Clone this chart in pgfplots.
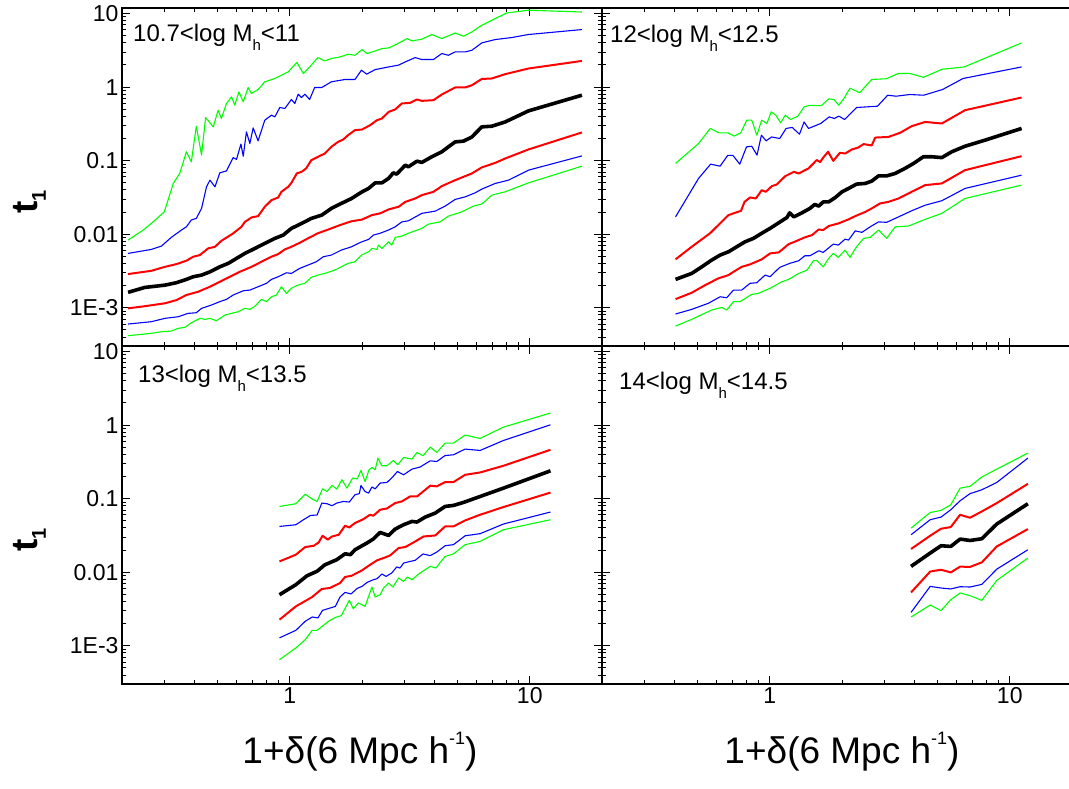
\documentclass[border=0pt]{standalone}
\usepackage{fontspec}
\setmainfont{Liberation Sans}
\usepackage{pgfplots}
\pgfplotsset{compat=1.18}
\definecolor{cgreen}{RGB}{0,255,0}
\definecolor{cblue}{RGB}{0,0,255}
\definecolor{cred}{RGB}{255,0,0}
\newcommand{\Mh}{M\raisebox{-9pt}{\fontsize{15}{15}\selectfont h}}
\pgfplotsset{
 mypanel/.style={scale only axis, width=480pt, height=338pt, anchor=south west,
  xmin=0.2, xmax=20, ymin=3.02e-4, ymax=11.9,
  xtick={1,10}, ytick={0.001,0.01,0.1,1,10},
  minor xtick={0.2,0.3,0.4,0.5,0.6,0.7,0.8,0.9,2,3,4,5,6,7,8,9,20},
  minor ytick={4e-4,5e-4,6e-4,7e-4,8e-4,9e-4,2e-3,3e-3,4e-3,5e-3,6e-3,7e-3,8e-3,9e-3,0.02,0.03,0.04,0.05,0.06,0.07,0.08,0.09,0.2,0.3,0.4,0.5,0.6,0.7,0.8,0.9,2,3,4,5,6,7,8,9},
  major tick length=8pt, minor tick length=4.5pt,
  axis line style={line width=1.3pt},
  tick style={black, line width=1pt},
  tick label style={font=\fontsize{23}{23}\selectfont},
  /pgf/number format/assume math mode=true,
  xticklabels={}, yticklabels={}},
 gl/.style={cgreen, line width=1.1pt, no markers, line join=round},
 bl/.style={cblue, line width=1.1pt, no markers, line join=round},
 rl/.style={cred, line width=2pt, no markers, line join=round},
 kl/.style={black, line width=3.6pt, no markers, line join=round},
}
\begin{document}
\begin{tikzpicture}[x=1pt,y=1pt]
\useasboundingbox (0,0) rectangle (1069,788);
% ---------------- top left
\begin{axis}[xmode=log, ymode=log, mypanel, at={(122pt,442pt)}, yticklabels={1E-3,0.01,0.1,1,10}]
\addplot[gl] coordinates {(0.212,0.00832) (0.245,0.01138) (0.265,0.01403) (0.300,0.0201) (0.311,0.0290) (0.327,0.0490) (0.348,0.0670) (0.371,0.132) (0.389,0.0964) (0.408,0.294) (0.429,0.119) (0.446,0.386) (0.480,0.288) (0.503,0.485) (0.519,0.374) (0.545,0.599) (0.572,0.736) (0.590,0.568) (0.614,0.861) (0.640,0.630) (0.671,0.988) (0.692,0.819) (0.738,0.927) (0.787,1.18) (0.867,1.31) (0.923,1.45) (0.985,1.61) (1.07,2.16) (1.14,1.53) (1.21,1.88) (1.31,2.52) (1.40,2.27) (1.49,2.45) (1.62,2.57) (1.75,2.80) (1.87,2.71) (2.00,3.24) (2.10,2.86) (2.27,3.10) (2.42,3.34) (2.58,3.41) (2.79,3.83) (3.08,4.57) (3.23,4.25) (3.55,4.48) (3.91,5.19) (4.30,4.57) (4.89,5.45) (5.29,4.92) (5.74,5.62) (6.31,6.93) (7.18,8.55) (8.03,10.2) (9.88,11.1) (16.5,10.5)};
\addplot[bl] coordinates {(0.212,0.00548) (0.265,0.00621) (0.292,0.00689) (0.321,0.00906) (0.354,0.0114) (0.371,0.0126) (0.389,0.0156) (0.408,0.0164) (0.429,0.0224) (0.450,0.0441) (0.465,0.0543) (0.488,0.0441) (0.511,0.0682) (0.545,0.0726) (0.581,0.110) (0.600,0.104) (0.626,0.168) (0.640,0.115) (0.660,0.246) (0.682,0.171) (0.704,0.279) (0.738,0.186) (0.787,0.355) (0.839,0.415) (0.867,0.394) (0.909,0.528) (0.954,0.512) (1.016,0.679) (1.05,0.599) (1.084,0.801) (1.119,0.722) (1.156,0.801) (1.21,0.679) (1.27,0.988) (1.36,0.988) (1.49,1.18) (1.70,1.27) (1.87,1.27) (1.99,1.70) (2.09,1.50) (2.27,1.73) (2.58,1.88) (2.84,1.99) (3.03,2.20) (3.33,2.52) (3.55,2.37) (3.97,2.37) (4.30,2.86) (4.58,2.71) (4.89,3.01) (5.38,3.01) (5.74,3.17) (6.31,3.99) (7.18,4.43) (8.42,4.72) (9.88,5.19) (16.5,6.06)};
\addplot[rl] coordinates {(0.212,0.00287) (0.265,0.00318) (0.302,0.00360) (0.337,0.00392) (0.371,0.00436) (0.396,0.00494) (0.422,0.00520) (0.457,0.00641) (0.488,0.00675) (0.519,0.00813) (0.581,0.01026) (0.629,0.0126) (0.650,0.0147) (0.693,0.0169) (0.738,0.0176) (0.787,0.0236) (0.839,0.0290) (0.895,0.0316) (0.923,0.0377) (0.985,0.0441) (1.016,0.0499) (1.07,0.0670) (1.12,0.0705) (1.17,0.0784) (1.23,0.1016) (1.31,0.1127) (1.40,0.125) (1.49,0.154) (1.59,0.180) (1.67,0.194) (1.75,0.222) (1.87,0.260) (2.00,0.265) (2.16,0.303) (2.31,0.355) (2.42,0.374) (2.58,0.460) (2.75,0.497) (2.93,0.599) (3.17,0.610) (3.39,0.679) (3.55,0.650) (3.97,0.664) (4.30,0.793) (4.89,0.988) (5.38,0.988) (5.74,1.06) (6.31,1.29) (6.95,1.31) (7.90,1.50) (9.88,1.79) (16.5,2.27)};
\addplot[kl] coordinates {(0.212,0.00162) (0.249,0.00189) (0.302,0.00203) (0.337,0.00219) (0.371,0.00243) (0.396,0.00264) (0.429,0.00278) (0.465,0.00308) (0.511,0.00360) (0.554,0.00401) (0.600,0.00469) (0.650,0.00548) (0.716,0.00641) (0.787,0.00750) (0.867,0.00877) (0.939,0.00973) (1.016,0.0120) (1.12,0.0140) (1.23,0.0164) (1.36,0.0182) (1.49,0.0224) (1.64,0.0262) (1.81,0.0306) (1.99,0.0373) (2.13,0.0419) (2.27,0.0499) (2.42,0.0499) (2.58,0.0573) (2.70,0.0682) (2.79,0.0656) (3.03,0.0869) (3.12,0.0824) (3.39,0.0984) (3.55,0.0946) (3.91,0.113) (4.30,0.132) (4.58,0.154) (4.89,0.180) (5.29,0.184) (5.74,0.210) (6.31,0.288) (6.95,0.294) (7.90,0.336) (9.88,0.475) (16.5,0.776)};
\addplot[rl] coordinates {(0.212,9.82e-4) (0.249,1.05e-3) (0.302,1.15e-3) (0.337,1.27e-3) (0.371,1.49e-3) (0.415,1.65e-3) (0.465,1.93e-3) (0.511,2.25e-3) (0.563,2.64e-3) (0.619,3.08e-3) (0.693,3.60e-3) (0.762,4.22e-3) (0.839,4.94e-3) (0.895,5.37e-3) (0.954,6.21e-3) (1.016,6.75e-3) (1.10,7.64e-3) (1.19,8.77e-3) (1.31,1.03e-2) (1.49,1.20e-2) (1.64,1.35e-2) (1.81,1.50e-2) (2.00,1.58e-2) (2.20,1.82e-2) (2.38,1.92e-2) (2.58,2.17e-2) (2.84,2.36e-2) (3.03,2.75e-2) (3.33,3.06e-2) (3.55,3.40e-2) (3.97,3.77e-2) (4.30,4.50e-2) (4.89,5.43e-2) (5.74,6.70e-2) (6.31,8.09e-2) (7.18,9.33e-2) (7.90,0.107) (9.88,0.142) (16.5,0.242)};
\addplot[bl] coordinates {(0.212,6.01e-4) (0.265,6.46e-4) (0.302,7.18e-4) (0.343,7.55e-4) (0.377,8.39e-4) (0.408,8.55e-4) (0.429,9.82e-4) (0.472,1.09e-3) (0.511,1.21e-3) (0.545,1.30e-3) (0.581,1.49e-3) (0.640,1.70e-3) (0.682,1.74e-3) (0.738,1.93e-3) (0.800,2.15e-3) (0.839,2.43e-3) (0.895,2.64e-3) (0.969,2.99e-3) (1.016,2.93e-3) (1.10,3.43e-3) (1.19,3.80e-3) (1.29,4.22e-3) (1.38,4.94e-3) (1.49,5.20e-3) (1.64,6.08e-3) (1.81,6.75e-3) (1.93,7.50e-3) (2.00,7.89e-3) (2.13,8.50e-3) (2.23,9.73e-3) (2.38,1.03e-2) (2.58,1.14e-2) (2.75,1.26e-2) (2.93,1.47e-2) (3.12,1.52e-2) (3.55,1.92e-2) (4.04,2.06e-2) (4.44,2.41e-2) (4.89,2.97e-2) (5.38,3.22e-2) (5.92,3.65e-2) (6.31,4.10e-2) (7.18,4.90e-2) (8.15,5.43e-2) (9.88,7.43e-2) (16.5,0.116)};
\addplot[gl] coordinates {(0.212,4.17e-4) (0.265,4.49e-4) (0.292,4.72e-4) (0.321,4.82e-4) (0.343,5.25e-4) (0.366,5.42e-4) (0.389,6.25e-4) (0.422,7.18e-4) (0.443,6.95e-4) (0.465,7.18e-4) (0.495,6.65e-4) (0.537,7.96e-4) (0.572,8.39e-4) (0.610,8.83e-4) (0.650,9.82e-4) (0.682,9.51e-4) (0.716,1.05e-3) (0.762,1.30e-3) (0.800,1.21e-3) (0.839,1.41e-3) (0.880,1.49e-3) (0.923,1.93e-3) (0.969,1.57e-3) (1.016,1.84e-3) (1.08,2.03e-3) (1.156,2.15e-3) (1.23,2.59e-3) (1.31,2.78e-3) (1.40,2.93e-3) (1.54,3.25e-3) (1.64,3.60e-3) (1.75,4.01e-3) (1.87,4.22e-3) (1.99,5.20e-3) (2.13,5.77e-3) (2.20,6.41e-3) (2.31,6.21e-3) (2.34,7.11e-3) (2.42,6.41e-3) (2.58,7.89e-3) (2.66,7.11e-3) (2.75,9.06e-3) (2.93,9.42e-3) (3.12,1.03e-2) (3.55,1.20e-2) (3.78,1.37e-2) (4.23,1.47e-2) (4.58,1.76e-2) (5.21,2.01e-2) (5.83,2.41e-2) (6.31,2.57e-2) (6.95,3.40e-2) (7.90,3.77e-2) (9.88,4.99e-2) (16.5,8.41e-2)};
\end{axis}
% ---------------- top right
\begin{axis}[xmode=log, ymode=log, mypanel, at={(602pt,442pt)}]
\addplot[gl] coordinates {(0.405,0.0916) (0.505,0.171) (0.565,0.274) (0.615,0.239) (0.668,0.239) (0.711,0.216) (0.757,0.239) (0.802,0.355) (0.841,0.355) (0.883,0.222) (0.926,0.355) (0.972,0.318) (1.014,0.460) (1.059,0.415) (1.11,0.327) (1.16,0.415) (1.22,0.363) (1.31,0.403) (1.39,0.538) (1.46,0.564) (1.64,0.559) (1.76,0.692) (1.85,0.679) (1.94,0.568) (2.03,0.689) (2.16,0.966) (2.37,0.839) (2.66,1.27) (3.06,1.30) (3.43,1.53) (3.84,1.53) (4.37,1.36) (5.23,1.75) (6.46,1.88) (11.2,3.99)};
\addplot[bl] coordinates {(0.405,0.0172) (0.505,0.0573) (0.567,0.0896) (0.621,0.0841) (0.668,0.118) (0.702,0.118) (0.750,0.0896) (0.800,0.154) (0.841,0.157) (0.885,0.119) (0.923,0.222) (0.966,0.186) (1.018,0.210) (1.10,0.200) (1.17,0.274) (1.24,0.283) (1.33,0.229) (1.39,0.336) (1.45,0.274) (1.63,0.320) (1.77,0.394) (1.86,0.374) (1.94,0.403) (2.05,0.363) (2.30,0.528) (2.81,0.550) (3.10,0.776) (3.36,0.752) (3.83,0.793) (4.38,0.776) (5.25,0.928) (6.39,1.31) (11.2,1.88)};
\addplot[rl] coordinates {(0.405,0.00455) (0.473,0.00675) (0.564,0.0103) (0.673,0.0182) (0.759,0.0208) (0.785,0.0275) (0.828,0.0316) (0.875,0.0306) (0.926,0.0397) (0.962,0.0377) (1.02,0.0450) (1.07,0.0475) (1.16,0.0616) (1.26,0.0705) (1.32,0.0670) (1.45,0.0784) (1.57,0.102) (1.62,0.0955) (1.67,0.110) (1.75,0.132) (1.84,0.0993) (1.96,0.128) (2.06,0.125) (2.20,0.142) (2.34,0.151) (2.46,0.168) (2.66,0.161) (2.75,0.206) (3.12,0.210) (3.49,0.239) (3.90,0.294) (4.44,0.336) (5.21,0.320) (6.51,0.485) (11.2,0.722)};
\addplot[kl] coordinates {(0.405,0.00243) (0.473,0.00293) (0.521,0.00360) (0.573,0.00445) (0.621,0.00520) (0.673,0.00577) (0.729,0.00675) (0.789,0.00789) (0.855,0.00877) (0.926,0.0103) (1.003,0.0120) (1.09,0.0143) (1.18,0.0169) (1.21,0.0195) (1.26,0.0172) (1.36,0.0195) (1.47,0.0224) (1.54,0.0254) (1.60,0.0241) (1.67,0.0275) (1.76,0.0275) (1.87,0.0313) (2.00,0.0377) (2.13,0.0419) (2.30,0.0480) (2.50,0.0490) (2.66,0.0527) (2.84,0.0621) (3.07,0.0621) (3.33,0.0670) (3.66,0.0784) (3.97,0.0916) (4.37,0.113) (4.73,0.113) (5.21,0.110) (5.73,0.132) (6.51,0.157) (7.89,0.190) (11.2,0.274)};
\addplot[rl] coordinates {(0.405,0.00131) (0.473,0.00160) (0.538,0.00203) (0.611,0.00251) (0.673,0.00278) (0.706,0.00308) (0.764,0.00360) (0.828,0.00389) (0.926,0.00455) (1.003,0.00548) (1.09,0.00566) (1.20,0.00734) (1.27,0.00789) (1.40,0.00906) (1.50,0.00973) (1.60,0.0116) (1.67,0.0114) (1.76,0.0129) (1.93,0.0140) (2.13,0.0159) (2.27,0.0176) (2.50,0.0201) (2.66,0.0224) (2.88,0.0262) (3.12,0.0275) (3.44,0.0306) (3.90,0.0377) (4.44,0.0465) (5.21,0.0490) (6.51,0.0743) (11.2,0.115)};
\addplot[bl] coordinates {(0.405,8.22e-4) (0.473,9.51e-4) (0.555,1.15e-3) (0.621,1.41e-3) (0.662,1.37e-3) (0.706,1.74e-3) (0.764,1.74e-3) (0.828,2.15e-3) (0.883,2.19e-3) (0.956,2.78e-3) (1.003,2.64e-3) (1.10,3.54e-3) (1.21,4.01e-3) (1.32,4.36e-3) (1.40,5.09e-3) (1.47,5.09e-3) (1.60,5.95e-3) (1.67,5.66e-3) (1.84,7.34e-3) (1.93,7.11e-3) (2.06,8.57e-3) (2.13,8.32e-3) (2.27,1.11e-2) (2.42,1.06e-2) (2.62,1.26e-2) (2.84,1.47e-2) (3.07,1.45e-2) (3.44,1.72e-2) (3.90,2.08e-2) (4.44,2.48e-2) (5.21,2.85e-2) (6.51,4.19e-2) (11.2,6.35e-2)};
\addplot[gl] coordinates {(0.405,5.64e-4) (0.473,6.95e-4) (0.573,9.31e-4) (0.631,1.01e-3) (0.662,9.31e-4) (0.706,1.21e-3) (0.752,1.21e-3) (0.841,1.52e-3) (0.897,1.57e-3) (1.003,1.84e-3) (1.12,2.25e-3) (1.20,2.43e-3) (1.32,2.93e-3) (1.43,3.25e-3) (1.52,4.36e-3) (1.57,4.40e-3) (1.67,3.60e-3) (1.76,4.69e-3) (1.84,5.48e-3) (1.93,4.84e-3) (2.06,6.08e-3) (2.16,4.84e-3) (2.30,6.75e-3) (2.46,8.77e-3) (2.62,9.06e-3) (2.84,1.14e-2) (3.07,8.77e-3) (3.33,1.26e-2) (3.78,1.29e-2) (4.44,1.59e-2) (5.21,1.92e-2) (6.51,3.06e-2) (11.2,4.65e-2)};
\end{axis}
% ---------------- bottom left
\begin{axis}[xmode=log, ymode=log, mypanel, at={(122pt,104pt)}, xticklabels={1,10}, yticklabels={1E-3,0.01,0.1,1,10}]
\addplot[gl] coordinates {(0.906,0.0784) (1.06,0.0853) (1.16,0.115) (1.24,0.0989) (1.30,0.0916) (1.37,0.136) (1.43,0.125) (1.50,0.151) (1.57,0.135) (1.65,0.181) (1.73,0.139) (1.83,0.191) (1.91,0.185) (1.98,0.242) (2.06,0.171) (2.14,0.247) (2.20,0.265) (2.27,0.247) (2.33,0.356) (2.42,0.280) (2.54,0.280) (2.70,0.330) (2.82,0.289) (2.98,0.363) (3.23,0.345) (3.39,0.425) (3.59,0.383) (3.85,0.502) (4.10,0.425) (4.44,0.569) (4.81,0.569) (5.38,0.732) (6.21,0.658) (7.77,0.939) (12.2,1.46)};
\addplot[bl] coordinates {(0.906,0.0419) (1.06,0.0442) (1.14,0.0516) (1.22,0.0592) (1.30,0.0599) (1.36,0.0871) (1.43,0.0853) (1.50,0.0802) (1.57,0.0871) (1.67,0.0916) (1.77,0.0900) (1.87,0.113) (1.95,0.117) (1.98,0.151) (2.06,0.125) (2.13,0.119) (2.20,0.144) (2.27,0.136) (2.38,0.163) (2.54,0.166) (2.66,0.191) (2.81,0.234) (2.98,0.211) (3.23,0.252) (3.49,0.269) (3.85,0.327) (4.10,0.320) (4.44,0.386) (4.81,0.395) (5.38,0.472) (6.21,0.452) (7.77,0.618) (12.2,1.01)};
\addplot[rl] coordinates {(0.906,0.0140) (1.06,0.0173) (1.16,0.0220) (1.26,0.0229) (1.32,0.0254) (1.37,0.0313) (1.44,0.0277) (1.50,0.0306) (1.60,0.0323) (1.70,0.0429) (1.77,0.0406) (1.87,0.0466) (2.03,0.0528) (2.16,0.0604) (2.23,0.0586) (2.38,0.0706) (2.54,0.0736) (2.75,0.0871) (2.93,0.0916) (3.17,0.107) (3.39,0.107) (3.85,0.150) (4.10,0.147) (4.44,0.168) (4.81,0.168) (5.38,0.211) (6.21,0.227) (7.77,0.280) (12.2,0.462)};
\addplot[kl] coordinates {(0.906,0.00494) (1.06,0.00676) (1.18,0.00895) (1.30,0.0103) (1.40,0.0126) (1.57,0.0148) (1.70,0.0178) (1.79,0.0173) (1.87,0.0202) (2.10,0.0250) (2.23,0.0283) (2.38,0.0348) (2.46,0.0334) (2.58,0.0316) (2.75,0.0386) (2.98,0.0442) (3.23,0.0490) (3.39,0.0481) (3.67,0.0562) (4.04,0.0637) (4.44,0.0784) (4.81,0.0809) (5.29,0.0888) (6.21,0.107) (7.77,0.139) (12.2,0.239)};
\addplot[rl] coordinates {(0.906,0.00226) (1.06,0.00343) (1.24,0.00460) (1.36,0.00592) (1.47,0.00610) (1.62,0.00713) (1.70,0.00861) (1.81,0.00895) (2.00,0.0106) (2.16,0.0126) (2.31,0.0145) (2.50,0.0159) (2.62,0.0169) (2.84,0.0213) (3.03,0.0220) (3.28,0.0254) (3.61,0.0306) (4.04,0.0316) (4.44,0.0419) (4.81,0.0419) (5.38,0.0506) (6.21,0.0604) (7.77,0.0769) (12.2,0.121)};
\addplot[bl] coordinates {(0.906,0.00128) (1.06,0.00162) (1.16,0.00215) (1.24,0.00246) (1.31,0.00239) (1.37,0.00303) (1.55,0.00343) (1.62,0.00460) (1.70,0.00532) (1.80,0.00506) (1.91,0.00603) (2.00,0.00641) (2.10,0.00727) (2.23,0.00791) (2.31,0.00816) (2.42,0.00945) (2.52,0.00877) (2.66,0.00975) (2.79,0.0118) (2.88,0.0114) (2.98,0.0133) (3.17,0.0140) (3.33,0.0145) (3.59,0.0177) (3.85,0.0168) (4.10,0.0188) (4.44,0.0229) (4.81,0.0237) (5.38,0.0313) (6.21,0.0334) (7.77,0.0452) (12.2,0.0658)};
\addplot[gl] coordinates {(0.906,6.47e-4) (1.06,9.33e-4) (1.16,1.21e-3) (1.24,1.62e-3) (1.30,1.62e-3) (1.45,2.15e-3) (1.55,2.43e-3) (1.64,2.57e-3) (1.77,4.14e-3) (1.84,3.19e-3) (1.93,3.82e-3) (2.06,3.43e-3) (2.20,6.29e-3) (2.27,4.60e-3) (2.38,4.94e-3) (2.46,6.10e-3) (2.58,7.13e-3) (2.69,6.29e-3) (2.84,8.34e-3) (2.98,7.50e-3) (3.09,8.61e-3) (3.23,7.91e-3) (3.49,9.75e-3) (3.85,1.20e-2) (4.06,1.14e-2) (4.44,1.64e-2) (4.81,1.77e-2) (5.38,2.37e-2) (6.21,2.62e-2) (7.77,3.78e-2) (12.2,5.17e-2)};
\end{axis}
% ---------------- bottom right
\begin{axis}[xmode=log, ymode=log, mypanel, at={(602pt,104pt)}, xticklabels={1,10}]
\addplot[gl] coordinates {(3.88,0.0398) (4.66,0.0649) (5.17,0.0692) (5.68,0.0826) (6.21,0.139) (6.83,0.147) (7.65,0.197) (8.83,0.252) (11.9,0.417)};
\addplot[bl] coordinates {(3.88,0.0323) (4.66,0.0517) (5.17,0.0562) (5.68,0.0707) (6.21,0.0936) (6.83,0.117) (7.65,0.132) (8.83,0.166) (11.9,0.356)};
\addplot[rl] coordinates {(3.88,0.0207) (4.66,0.0313) (5.17,0.0390) (5.68,0.0411) (6.21,0.0604) (6.83,0.0550) (7.65,0.0670) (8.83,0.0871) (11.9,0.159)};
\addplot[kl] coordinates {(3.88,0.0120) (4.66,0.0182) (5.17,0.0229) (5.68,0.0224) (6.21,0.0282) (6.83,0.0270) (7.65,0.0285) (8.83,0.0452) (11.9,0.0853)};
\addplot[rl] coordinates {(3.88,0.00531) (4.66,0.0102) (5.17,0.0108) (5.68,0.00994) (6.21,0.0119) (6.83,0.0118) (7.65,0.0136) (8.83,0.0224) (11.9,0.0386)};
\addplot[bl] coordinates {(3.88,0.00284) (4.66,0.00641) (5.17,0.00610) (5.68,0.00592) (6.21,0.00635) (6.83,0.00629) (7.65,0.00683) (8.83,0.0110) (11.9,0.0202)};
\addplot[gl] coordinates {(3.88,0.00246) (4.66,0.00358) (5.17,0.00300) (5.68,0.00423) (6.21,0.00522) (6.83,0.00480) (7.65,0.00414) (8.83,0.00774) (11.9,0.0156)};
\end{axis}
% ---------------- labels
\begin{scope}[every node/.style={inner sep=0pt, font=\fontsize{24}{24}\selectfont}]
\node[anchor=base west] at (133,746) {10.7<log \Mh<11};
\node[anchor=base west] at (610,745) {12<log \Mh<12.5};
\node[anchor=base west] at (138,405) {13<log \Mh<13.5};
\node[anchor=base west] at (619,398) {14<log \Mh<14.5};
\end{scope}
\begin{scope}[every node/.style={inner sep=0pt, font=\fontsize{37}{37}\selectfont}]
\node[anchor=base] at (360,25) {1+δ(6 Mpc h\raisebox{19pt}{\fontsize{18}{18}\selectfont -1})};
\node[anchor=base] at (842,25) {1+δ(6 Mpc h\raisebox{19pt}{\fontsize{18}{18}\selectfont -1})};
\node[anchor=base, rotate=90] at (37,586) {\bfseries t\raisebox{-9pt}{\fontsize{20}{20}\selectfont\bfseries 1}};
\node[anchor=base, rotate=90] at (37,248) {\bfseries t\raisebox{-9pt}{\fontsize{20}{20}\selectfont\bfseries 1}};
\end{scope}
\end{tikzpicture}
\end{document}
